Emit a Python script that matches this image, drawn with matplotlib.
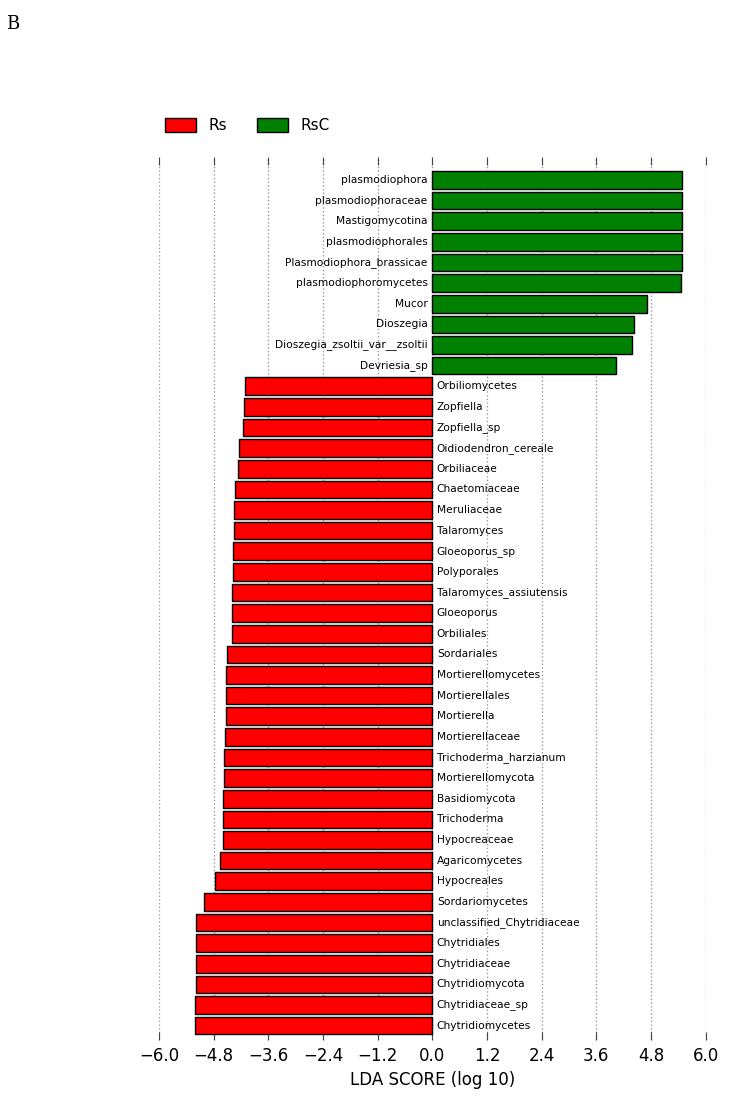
import numpy as np
import matplotlib
matplotlib.use('Agg')
import matplotlib.pyplot as plt
from matplotlib.patches import Patch

# LEfSe LDA scores, top to bottom as in the figure
taxa = ['plasmodiophora', 'plasmodiophoraceae', 'Mastigomycotina', 'plasmodiophorales',
        'Plasmodiophora_brassicae', 'plasmodiophoromycetes', 'Mucor', 'Dioszegia',
        'Dioszegia_zsoltii_var__zsoltii', 'Devriesia_sp',
        'Orbiliomycetes', 'Zopfiella', 'Zopfiella_sp', 'Oidiodendron_cereale', 'Orbiliaceae',
        'Chaetomiaceae', 'Meruliaceae', 'Talaromyces', 'Gloeoporus_sp', 'Polyporales',
        'Talaromyces_assiutensis', 'Gloeoporus', 'Orbiliales', 'Sordariales',
        'Mortierellomycetes', 'Mortierellales', 'Mortierella', 'Mortierellaceae',
        'Trichoderma_harzianum', 'Mortierellomycota', 'Basidiomycota', 'Trichoderma',
        'Hypocreaceae', 'Agaricomycetes', 'Hypocreales', 'Sordariomycetes',
        'unclassified_Chytridiaceae', 'Chytridiales', 'Chytridiaceae', 'Chytridiomycota',
        'Chytridiaceae_sp', 'Chytridiomycetes']
scores = [5.49, 5.49, 5.47, 5.47, 5.47, 5.46, 4.71, 4.42, 4.39, 4.03,
          -4.11, -4.13, -4.16, -4.24, -4.27, -4.34, -4.36, -4.36, -4.38, -4.38,
          -4.39, -4.39, -4.39, -4.51, -4.52, -4.52, -4.53, -4.54, -4.57, -4.57,
          -4.59, -4.59, -4.59, -4.67, -4.78, -5.00, -5.18, -5.19, -5.19, -5.19,
          -5.20, -5.21]
groups = ['RsC'] * 10 + ['Rs'] * 32
group_colors = {'Rs': '#ff0000', 'RsC': '#008000'}
xticks = [-6.0, -4.8, -3.6, -2.4, -1.2, 0.0, 1.2, 2.4, 3.6, 4.8, 6.0]

fig = plt.figure(figsize=(7.29, 11), dpi=100)
ax = fig.add_axes([0.218, 0.0545, 0.75, 0.8025])

ypos = np.arange(len(taxa))
cols = [group_colors[g] for g in groups]
ax.barh(ypos, scores, height=0.85, color=cols, edgecolor='black', linewidth=1.0, zorder=2)

for y, s, name in zip(ypos, scores, taxa):
    if s > 0:
        ax.text(-0.1, y, name, ha='right', va='center', fontsize=7.7, zorder=3)
    else:
        ax.text(0.1, y, name, ha='left', va='center', fontsize=7.7, zorder=3)

ax.set_xlim(-6.0, 6.0)
ax.set_ylim(len(taxa) - 0.3, -1.1)
ax.set_xticks(xticks)
ax.set_xticklabels(['\u2212%.1f' % abs(t) if t < 0 else '%.1f' % t for t in xticks], fontsize=12)
ax.set_yticks([])
ax.tick_params(axis='x', direction='in', top=True, length=6, color='#444444', pad=5)
ax.grid(axis='x', linestyle=':', color='#999999', linewidth=1.0, zorder=0)
for sp in ax.spines.values():
    sp.set_visible(False)
ax.set_xlabel('LDA SCORE (log 10)', fontsize=12, labelpad=4)

handles = [Patch(facecolor=group_colors['Rs'], edgecolor='black', label='Rs'),
           Patch(facecolor=group_colors['RsC'], edgecolor='black', label='RsC')]
fig.legend(handles=handles, loc='center left', bbox_to_anchor=(0.208, 0.886), ncol=2,
           frameon=False, fontsize=11, handlelength=2.0, handleheight=1.0,
           handletextpad=0.8, columnspacing=2.0)

fig.text(0.008, 0.978, 'B', fontsize=13, family='DejaVu Serif', va='center')

fig.savefig('out.png', dpi=100)
